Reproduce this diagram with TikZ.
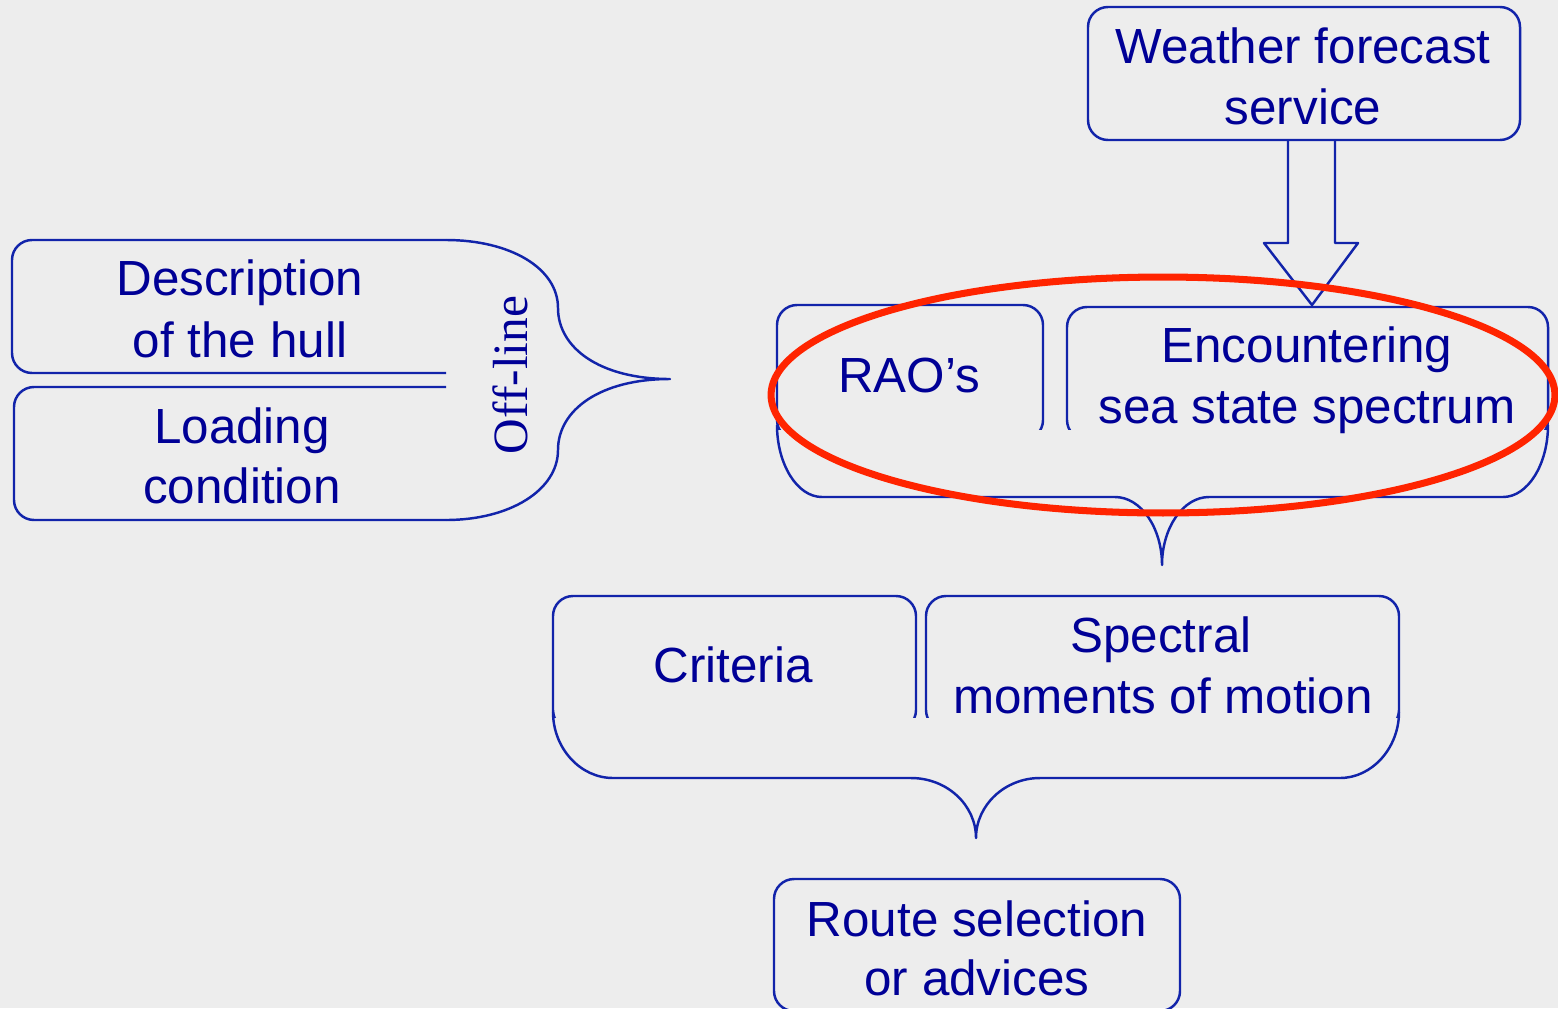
\documentclass[tikz,border=0pt]{standalone}
\usepackage{fontspec}
\setmainfont{Liberation Sans}
\newfontfamily\seriffont{Liberation Serif}
\definecolor{bgcol}{RGB}{237,237,237}
\definecolor{txtcol}{RGB}{0,0,150}
\definecolor{linecol}{RGB}{18,36,170}
\definecolor{ringcol}{RGB}{255,36,0}
\begin{document}
\begin{tikzpicture}[x=0.02cm,y=-0.02cm,
  lbl/.style={anchor=base, inner sep=0pt, text=txtcol, font=\fontsize{28.1}{34}\selectfont},
  outline/.style={draw=linecol, line width=1.4pt, line join=round},
  boxcorner/.style={outline, rounded corners=0.4cm}]
\useasboundingbox (0,0) rectangle (1558,1008);
\fill[bgcol] (0,0) rectangle (1558,1008);

% Weather forecast service
\draw[boxcorner] (1088,7) rectangle (1520,140);
\node[lbl] (w1) at (1303,63) {Weather forecast};
\node[lbl] (w2) at (1303,124) {service};

% hollow block arrow down to the sea state spectrum
\draw[outline] (1288,141) -- (1288,243) -- (1264,243) -- (1312,305)
  -- (1358,243) -- (1335,243) -- (1335,141);

% off-line inputs
\draw[boxcorner] (446,240) -- (12,240) -- (12,373) -- (446,373);
\draw[boxcorner] (446,387) -- (14,387) -- (14,520) -- (446,520);
\node[lbl] (d1) at (240,295) {Description};
\node[lbl] (d2) at (240,357) {of the hull};
\node[lbl] (l1) at (242,443) {Loading};
\node[lbl] (l2) at (242,503) {condition};
\draw[outline] (446,240) .. controls (510,240) and (558,268) .. (558,308)
  .. controls (558,348) and (600,379) .. (670,379)
  .. controls (600,379) and (558,410) .. (558,450)
  .. controls (558,490) and (510,520) .. (446,520);
\node[lbl, rotate=90, font=\seriffont\fontsize{28.1}{34}\selectfont] (off) at (527,375) {Off-line};

% RAO's and encountering spectrum
\begin{scope}
  \clip (700,280) rectangle (1558,429);
  \draw[boxcorner] (777,305) rectangle (1043,440);
  \draw[boxcorner] (1067,307) rectangle (1548,440);
\end{scope}
\node[lbl] (rao) at (909,392) {RAO’s};
\node[lbl] (e1) at (1307,362) {Encountering};
\node[lbl] (e2) at (1307,423) {sea state spectrum};
\draw[outline] (777,425) .. controls (777,464) and (797,497) .. (822,497)
  -- (1115,497) .. controls (1141,497) and (1162,528) .. (1162,565)
  .. controls (1162,528) and (1183,497) .. (1209,497)
  -- (1503,497) .. controls (1528,497) and (1548,464) .. (1548,425);

% criteria and spectral moments
\begin{scope}
  \clip (540,580) rectangle (1420,717);
  \draw[boxcorner] (553,596) rectangle (916,730);
  \draw[boxcorner] (926,596) rectangle (1399,730);
\end{scope}
\node[lbl] (cr) at (733,682) {Criteria};
\node[lbl] (s1) at (1161,652) {Spectral};
\node[lbl] (s2) at (1163,713) {moments of motion};
\draw[outline] (553,712) .. controls (553,748) and (580,778) .. (613,778)
  -- (911,778) .. controls (947,778) and (976,805) .. (976,838)
  .. controls (976,805) and (1005,778) .. (1040,778)
  -- (1340,778) .. controls (1372,778) and (1399,748) .. (1399,712);

% route selection
\begin{scope}
  \clip (0,0) rectangle (1558,1008);
  \draw[boxcorner] (774,879) rectangle (1180,1011);
\end{scope}
\node[lbl] (r1) at (977,936) {Route selection};
\node[lbl] (r2) at (977,995) {or advices};

% highlight ring
\draw[ringcol, line width=4pt] (1163,395) ellipse [x radius=7.84cm, y radius=2.36cm];
\end{tikzpicture}
\end{document}
